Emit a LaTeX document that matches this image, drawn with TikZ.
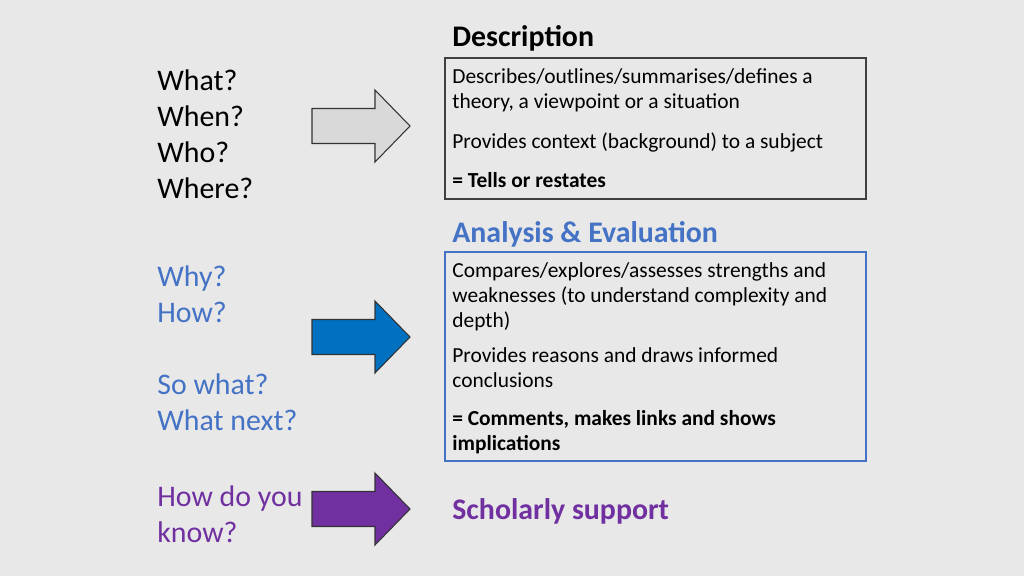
\documentclass[tikz,border=0pt]{standalone}
\usepackage{fontspec}
\setmainfont{Carlito}
\usetikzlibrary{positioning}

\definecolor{slidebg}{HTML}{E8E8E8}
\definecolor{accblue}{HTML}{4472C4}
\definecolor{arrblue}{HTML}{0070C0}
\definecolor{accpurple}{HTML}{7030A0}
\definecolor{arrgrey}{HTML}{D9D9D9}
\definecolor{boxedge}{HTML}{404040}

\tikzset{
	qtext/.style={anchor=base west, inner sep=0pt, align=left, font=\fontsize{17}{20.4}\selectfont},
	heading/.style={anchor=base west, inner sep=0pt, font=\fontsize{17}{19}\selectfont\bfseries},
	bodytext/.style={anchor=base west, inner sep=0pt, align=left, font=\fontsize{12.2}{14.2}\selectfont},
	boldtext/.style={bodytext, font=\fontsize{12.2}{14.2}\selectfont\bfseries},
	panel/.style={draw, line width=1.2pt, minimum width=8.42cm},
	rarrow/.pic={
			\draw[line width=0.6pt, draw=black!80, fill=#1, line join=miter]
			(0,-17.5) -- (63,-17.5) -- (63,-36) -- (98,0) -- (63,36) -- (63,17.5) -- (0,17.5) -- cycle;
		}
}

\begin{document}
\begin{tikzpicture}[x=0.02cm, y=-0.02cm]
	\useasboundingbox (0,0) rectangle (1024,576);
	\fill[slidebg] (0,0) rectangle (1024,576);

	% questions on the left (base = last line)
	\node[qtext] (what) at (157,198) {What?\\When?\\Who?\\Where?};
	\node[qtext, text=accblue] (why) at (157,322) {Why?\\How?};
	\node[qtext, text=accblue] (sowhat) at (157,430) {So what?\\What next?};
	\node[qtext, text=accpurple] (howknow) at (157,542) {How do you\\know?};

	% arrows
	\pic at (312,126) {rarrow=arrgrey};
	\pic at (312,337) {rarrow=arrblue};
	\pic at (312,509) {rarrow=accpurple};

	% description
	\node[heading] (deschead) at (452,46) {Description};
	\node[panel, draw=boxedge, minimum height=2.82cm] (descbox) at (655.5,128.5) {};
	\node[bodytext] (desc1) at (452,108) {Describes/outlines/summarises/defines a\\theory, a viewpoint or a situation};
	\node[bodytext] (desc2) at (452,148) {Provides context (background) to a subject};
	\node[boldtext] (desc3) at (452,187) {= Tells or restates};

	% analysis and evaluation
	\node[heading, text=accblue] (anahead) at (452,242) {Analysis \& Evaluation};
	\node[panel, draw=accblue, minimum height=4.18cm] (anabox) at (655.5,356.5) {};
	\node[bodytext] (ana1) at (452,327) {Compares/explores/assesses strengths and\\weaknesses (to understand complexity and\\depth)};
	\node[bodytext] (ana2) at (452,387) {Provides reasons and draws informed\\conclusions};
	\node[boldtext] (ana3) at (452,450) {= Comments, makes links and shows\\implications};

	% scholarly support
	\node[heading, text=accpurple] (scholar) at (452,519) {Scholarly support};
\end{tikzpicture}
\end{document}
